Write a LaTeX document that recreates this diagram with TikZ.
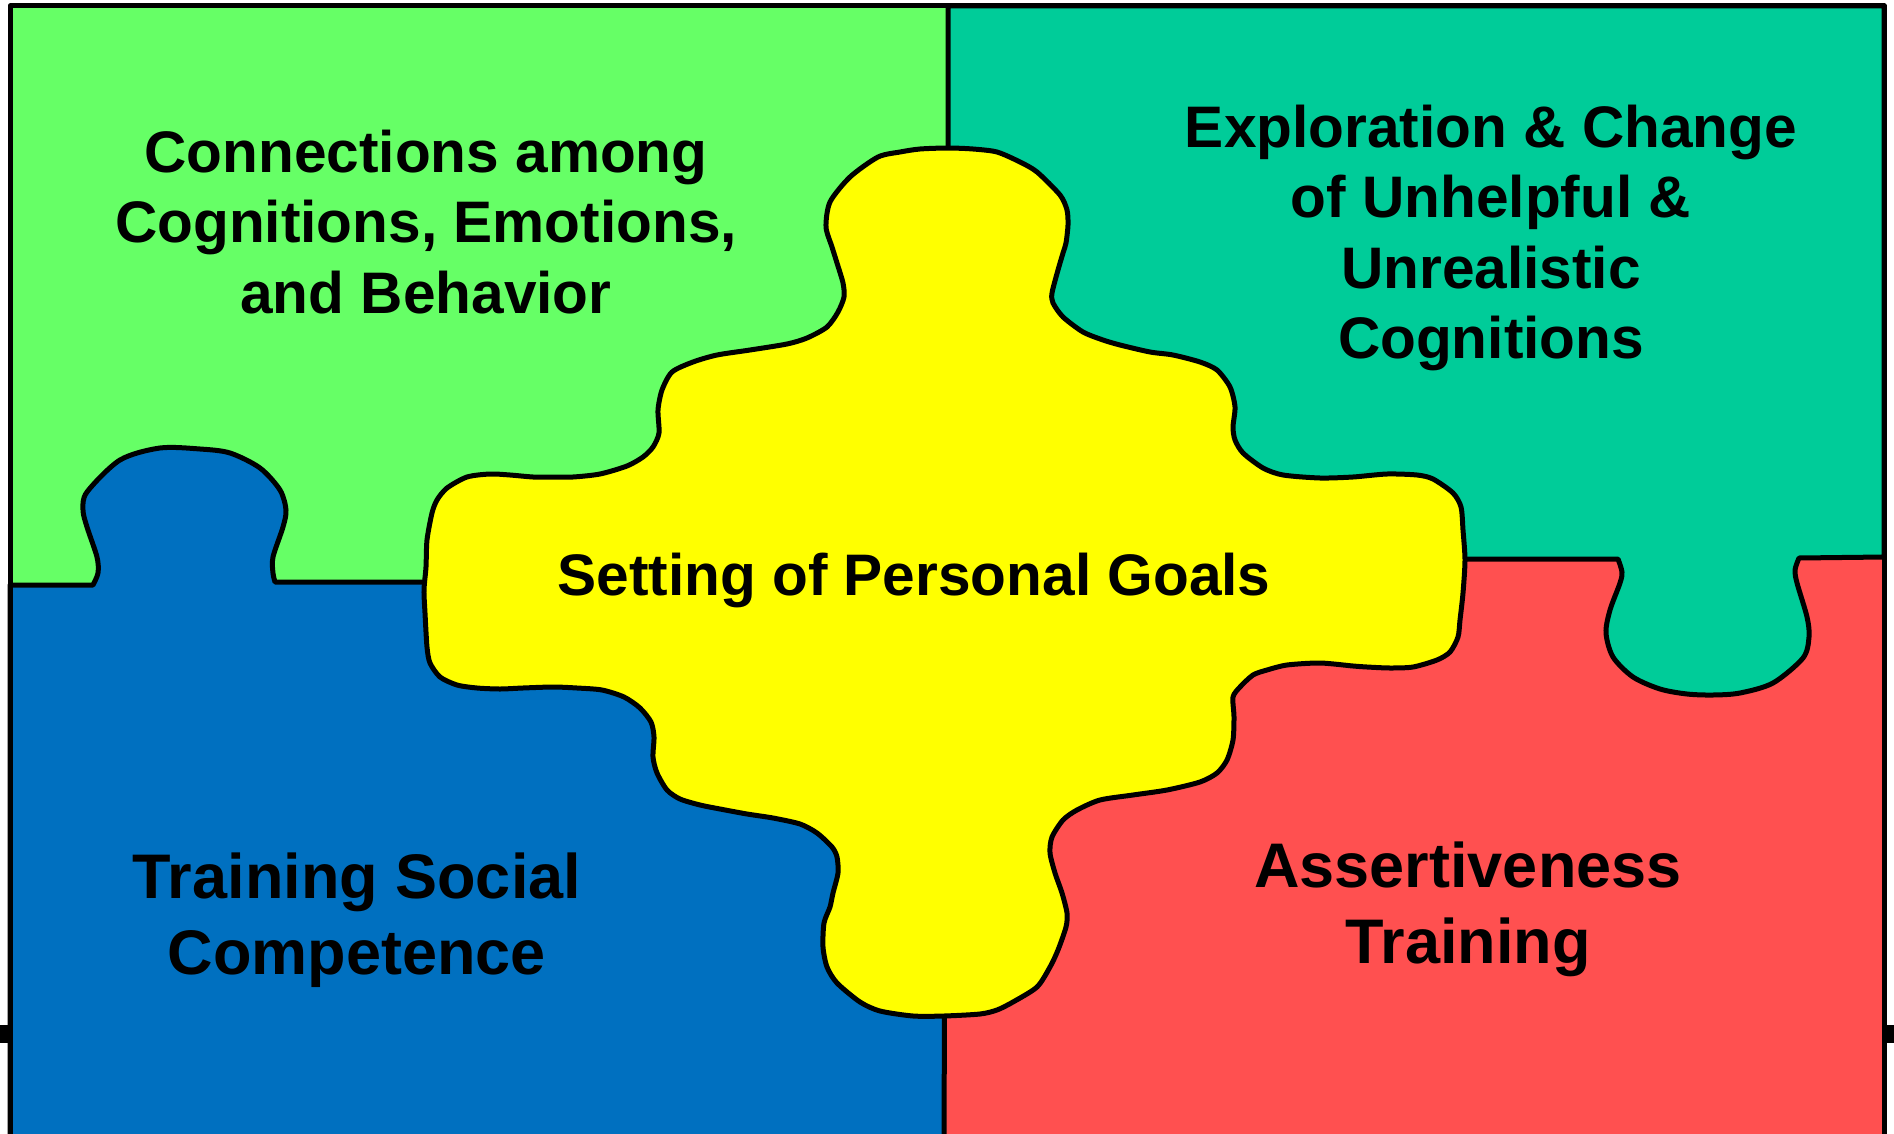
\documentclass[tikz,border=0pt]{standalone}
\usepackage{fontspec}
\setmainfont{Liberation Sans}
\definecolor{pgreen}{HTML}{66FF66}
\definecolor{pteal}{HTML}{00CC99}
\definecolor{pblue}{HTML}{0070C0}
\definecolor{pred}{HTML}{FF5050}
\definecolor{pyellow}{HTML}{FFFF00}
\begin{document}
\begin{tikzpicture}[x=1pt,y=-1pt,line join=round,
  edge/.style={line width=5pt,draw=black},
  lblA/.style={font=\fontsize{58.6}{70.5}\selectfont\bfseries,align=center,inner sep=0pt,text=black},
  lblB/.style={font=\fontsize{63}{76}\selectfont\bfseries,align=center,inner sep=0pt,text=black}]
\useasboundingbox (0,0) rectangle (1894,1134);
\clip (0,0) rectangle (1894,1134);
% stub line behind the frame
\draw[line width=18pt] (0,1034) -- (1894,1034);
% red base
\fill[pred] (10,6) rectangle (1884,1140);
% green quadrant
\fill[pgreen] (10,6) rectangle (948,584);
% teal quadrant with tab
\filldraw[fill=pteal,edge] (948,6) -- (1884,6) -- (1884,557) -- (1799,558)
  -- plot[smooth,tension=0.5] coordinates {(1799,558) (1795,570) (1797,583) (1807,617) (1809,637) (1803,658) (1773,683) (1740,693) (1713,695) (1687,694) (1660,689) (1633,677) (1613,657) (1606,633) (1610,610) (1620,583) (1622,572) (1618,559)}
  -- (948,559) -- cycle;
% blue quadrant with tab
\filldraw[fill=pblue,edge] (10,585) -- (93,585)
  -- plot[smooth,tension=0.5] coordinates {(93,585) (98,573) (97,557) (87,527) (83,510) (87,492) (120,460) (160,448) (200,449) (230,453) (260,468) (280,490) (286,510) (283,527) (273,557) (273,573) (275,582)}
  -- (946,582) -- (944,1140) -- (10,1140) -- cycle;
% yellow centre piece
\filldraw[fill=pyellow,edge] plot[smooth cycle,tension=0.45] coordinates {
 (878,157) (900,152) (920,149) (948,148) (973,149) (997,152) (1020,162) (1037,172) (1060,195) (1067,210) (1068,225) (1066,243) (1063,253) (1058,270) (1052,293) (1053,303) (1063,317) (1083,332) (1103,340) (1120,345) (1150,352) (1173,355) (1200,362) (1217,370) (1230,387) (1235,407) (1233,427) (1235,440) (1243,453) (1263,468) (1283,475) (1320,478) (1353,477) (1387,474) (1417,475) (1433,479) (1453,493) (1461,507) (1463,530) (1465,560) (1463,593) (1460,620) (1458,637) (1450,652) (1437,660) (1413,667) (1390,668) (1367,667) (1353,666) (1320,663) (1287,665) (1267,670) (1253,675) (1240,687) (1233,697) (1234,717) (1233,740) (1227,760) (1217,773) (1200,782) (1167,790) (1133,795) (1100,800) (1077,810) (1063,820) (1052,837) (1050,853) (1055,873) (1062,893) (1067,913) (1066,927) (1058,950) (1050,967) (1037,987) (1013,1002) (997,1010) (980,1014) (944,1016) (913,1016) (880,1011) (860,1002) (837,983) (827,967) (823,947) (824,923) (830,907) (833,893) (838,873) (837,857) (832,847) (817,833) (800,824) (773,818) (747,814) (720,809) (700,805) (680,799) (667,790) (657,773) (653,757) (654,737) (651,722) (640,708) (624,697) (602,690) (577,688) (553,687) (523,688) (500,689) (477,688) (457,685) (440,677) (430,663) (427,647) (425,613) (424,590) (426,567) (427,540) (432,513) (437,500) (447,488) (467,477) (490,474) (510,475) (533,477) (550,477) (573,477) (600,474) (627,466) (643,457) (653,447) (659,433) (658,410) (662,390) (672,372) (693,362) (717,355) (750,350) (787,344) (807,338) (827,327) (838,312) (844,297) (843,283) (837,263) (832,247) (826,227) (830,202) (850,177)};
% outer frame
\draw[edge] (10,6) rectangle (1884,1150);
% labels
\node[lblA] (conn) at (426,222) {Connections among\\Cognitions, Emotions,\\and Behavior};
\node[lblA] (expl) at (1491,238) {Exploration \& Change\\of Unhelpful \&\\Unrealistic\\Cognitions};
\node[lblA] (goals) at (914,580) {Setting of Personal Goals};
\node[lblB] (social) at (357,920) {Training Social\\Competence};
\node[lblB] (assert) at (1468,909) {Assertiveness\\Training};
\end{tikzpicture}
\end{document}
